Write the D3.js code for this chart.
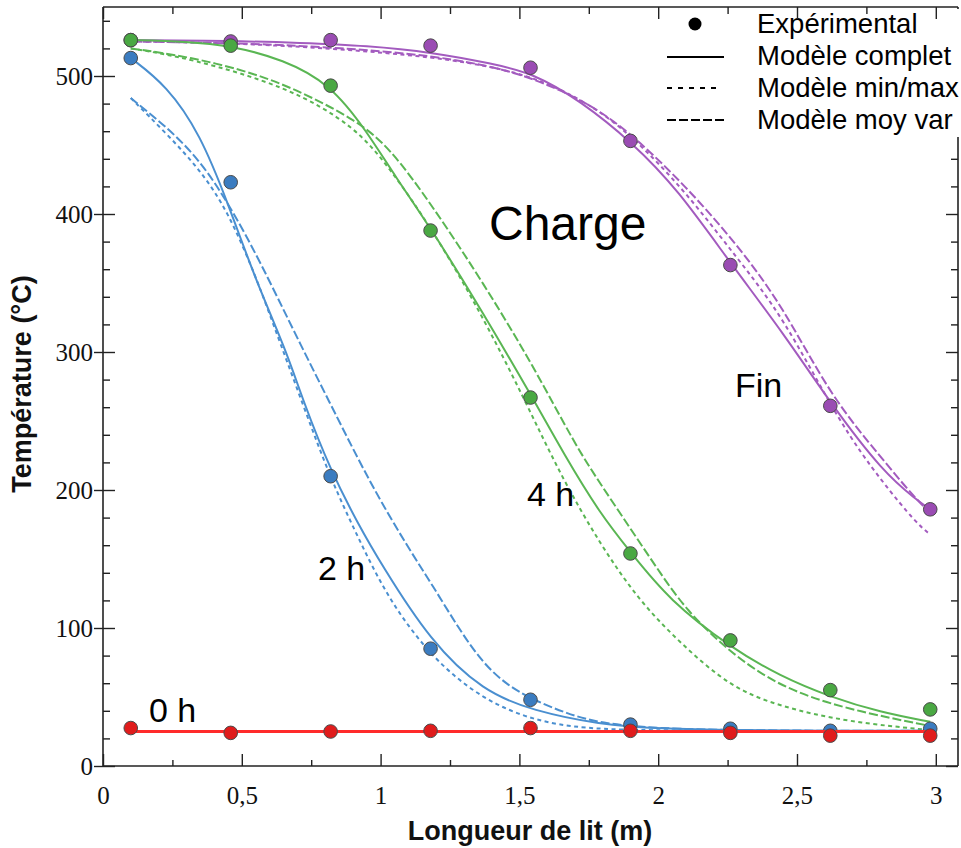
<!DOCTYPE html>
<html>
<head>
<meta charset="utf-8">
<script src="https://cdn.jsdelivr.net/npm/d3@7"></script>
<style>
  html, body { margin: 0; padding: 0; background: #fff; }
  svg { display: block; }
</style>
</head>
<body>
<script>
// ---------- DATA ----------
const xExp = [0.1, 0.46, 0.82, 1.18, 1.54, 1.9, 2.26, 2.62, 2.98];
const exp0h  = [27.5, 24, 25, 25.5, 27.5, 25.5, 24, 22, 22];
const exp2h  = [513, 423, 210, 85, 48, 30, 27, 25.5, 27];
const exp4h  = [526, 522, 493, 388, 267, 154, 91, 55, 41];
const expFin = [526, 525, 526, 522, 506, 453, 363, 261, 186];

// 0 h models
const x0hModel = [0.1, 2.98];
const t0hModel = [25, 25];

// 2 h models
const x2hComplet = [0.1, 0.23, 0.35, 0.45, 0.55, 0.66, 0.72, 0.82, 0.92, 1.0, 1.18, 1.37, 1.55, 1.79, 2.0, 2.3, 2.6, 2.98];
const t2hComplet = [513, 493, 458, 408, 352, 301, 265, 214, 175, 147, 90, 54, 40, 30, 27, 26, 25.5, 25.5];
const x2hMinMax = [0.1, 0.23, 0.35, 0.45, 0.55, 0.61, 0.72, 0.82, 0.92, 1.03, 1.19, 1.37, 1.55, 1.73, 2.0, 2.98];
const t2hMinMax = [484, 458, 432, 402, 355, 322, 262, 208, 165, 120, 77, 48, 33, 27, 25.5, 25];
const x2hMoyVar = [0.1, 0.23, 0.35, 0.46, 0.57, 0.69, 0.82, 0.92, 1.0, 1.1, 1.19, 1.28, 1.37, 1.46, 1.55, 1.67, 1.79, 2.0, 2.3, 2.6, 2.98];
const t2hMoyVar = [484, 463, 439, 405, 364, 314, 262, 222, 192, 158, 130, 100, 74, 58, 48, 38, 31, 27, 26, 25.5, 25.5];

// 4 h models
const x4hComplet = [0.1, 0.3, 0.46, 0.65, 0.82, 0.95, 1.05, 1.19, 1.37, 1.55, 1.66, 1.79, 1.9, 2.04, 2.26, 2.44, 2.62, 2.8, 2.98];
const t4hComplet = [526, 525, 522, 512, 494, 460, 428, 387, 328, 266, 226, 183, 155, 120, 86, 65, 50, 39, 32];
const x4hMinMax = [0.1, 0.31, 0.67, 0.91, 1.03, 1.19, 1.37, 1.52, 1.65, 1.79, 1.93, 2.08, 2.26, 2.44, 2.68, 2.98];
const t4hMinMax = [520, 513, 492, 463, 434, 388, 325, 265, 210, 161, 120, 89, 57, 43, 32, 26];
const x4hMoyVar = [0.1, 0.31, 0.55, 0.73, 0.91, 1.03, 1.19, 1.37, 1.55, 1.7, 1.79, 1.9, 2.0, 2.1, 2.26, 2.44, 2.68, 2.98];
const t4hMoyVar = [520, 514, 502, 487, 468, 449, 405, 350, 290, 233, 205, 172, 142, 113, 82, 57, 41, 29];

// Fin models
const xFinComplet = [0.1, 0.46, 0.71, 0.95, 1.19, 1.4, 1.55, 1.72, 1.906, 2.07, 2.265, 2.45, 2.627, 2.81, 2.93, 2.98];
const tFinComplet = [526, 525.5, 524, 522, 517, 509, 502, 482, 452, 418, 363, 314, 261, 213, 193, 186];
const xFinMinMax = [0.1, 0.46, 0.82, 1.19, 1.45, 1.6, 1.75, 1.9, 2.1, 2.28, 2.45, 2.654, 2.81, 2.93, 2.978];
const tFinMinMax = [525, 524, 520, 514, 505, 495, 480, 458, 416, 369, 326, 248, 205, 176, 168];
const xFinMoyVar = [0.1, 0.46, 0.82, 1.19, 1.45, 1.6, 1.75, 1.9, 2.1, 2.28, 2.45, 2.62, 2.81, 2.9, 2.966];
const tFinMoyVar = [525, 524, 521, 515, 505, 494, 480, 459, 420, 379, 333, 268, 222, 200, 186];

// ticks
const xMajorTicks = [0, 0.5, 1, 1.5, 2, 2.5, 3];
const xTickLabels = ["0", "0,5", "1", "1,5", "2", "2,5", "3"];
const yMajorTicks = [0, 100, 200, 300, 400, 500];
const yTickLabels = ["0", "100", "200", "300", "400", "500"];

const legendLabels = ["Expérimental", "Modèle complet", "Modèle min/max", "Modèle moy var"];

// ---------- STYLE ----------
const W = 961, H = 848;
const colors = {
  fin:  { pt: "#9a4cb3", ln: "#a35bbf" },
  h4:   { pt: "#4aa843", ln: "#5ab653" },
  h2:   { pt: "#3b7cc0", ln: "#4a8fd0" },
  h0:   { pt: "#e01c1c", ln: "#ff2a2a" }
};
const dashShort = "4,3.5";
const dashLong = "9,3";

const svg = d3.select("body").append("svg").attr("width", W).attr("height", H);

const x = d3.scaleLinear().domain([0, 3.08]).range([103, 958]);
const y = d3.scaleLinear().domain([0, 550]).range([766, 7]);

const plot = svg.append("g");

// Curves
const line = d3.line().x(d => x(d[0])).y(d => y(d[1])).curve(d3.curveBasis);
function drawCurve(xs, ts, color, dash, width) {
  plot.append("path")
    .datum(d3.zip(xs, ts))
    .attr("d", line)
    .attr("fill", "none")
    .attr("stroke", color)
    .attr("stroke-width", width || 2)
    .attr("stroke-dasharray", dash || null);
}
function drawPoints(vals, color) {
  plot.selectAll(null).data(d3.zip(xExp, vals)).enter().append("circle")
    .attr("cx", d => x(d[0])).attr("cy", d => y(d[1])).attr("r", 6.8)
    .attr("fill", color).attr("stroke", "#4a4a4a").attr("stroke-width", 1);
}

// Fin
drawCurve(xFinMinMax, tFinMinMax, colors.fin.ln, dashShort);
drawCurve(xFinMoyVar, tFinMoyVar, colors.fin.ln, dashLong);
drawCurve(xFinComplet, tFinComplet, colors.fin.ln);
// 4 h
drawCurve(x4hMinMax, t4hMinMax, colors.h4.ln, dashShort);
drawCurve(x4hMoyVar, t4hMoyVar, colors.h4.ln, dashLong);
drawCurve(x4hComplet, t4hComplet, colors.h4.ln);
// 2 h
drawCurve(x2hMinMax, t2hMinMax, colors.h2.ln, dashShort);
drawCurve(x2hMoyVar, t2hMoyVar, colors.h2.ln, dashLong);
drawCurve(x2hComplet, t2hComplet, colors.h2.ln);

drawPoints(expFin, colors.fin.pt);
drawPoints(exp4h, colors.h4.pt);
drawPoints(exp2h, colors.h2.pt);

// 0 h
drawCurve(x0hModel, t0hModel, colors.h0.ln, dashShort, 3);
drawCurve(x0hModel, t0hModel, colors.h0.ln, dashLong, 3);
drawCurve(x0hModel, t0hModel, colors.h0.ln, null, 3);
drawPoints(exp0h, colors.h0.pt);

// ---------- AXES / FRAME ----------
const axisColor = "#222";
const frame = svg.append("g");
frame.append("line").attr("x1", 103).attr("x2", 103).attr("y1", 7).attr("y2", 766).attr("stroke", axisColor).attr("stroke-width", 1.6);
frame.append("line").attr("x1", 103).attr("x2", 958).attr("y1", 766).attr("y2", 766).attr("stroke", axisColor).attr("stroke-width", 1.6);
frame.append("line").attr("x1", 103).attr("x2", 958).attr("y1", 7).attr("y2", 7).attr("stroke", axisColor).attr("stroke-width", 1.6);
frame.append("line").attr("x1", 958).attr("x2", 958).attr("y1", 7).attr("y2", 766).attr("stroke", axisColor).attr("stroke-width", 1.6);

// Legend background (hides right border top part)
const leg = svg.append("g");
leg.append("rect").attr("x", 655).attr("y", 9).attr("width", 306).attr("height", 128).attr("fill", "#fff");

const xMinor = d3.range(0.25, 3.01, 0.5);
const yMinor = d3.range(0, 551, 20).filter(v => v % 100 !== 0);

// bottom axis
const bottomAxis = d3.axisBottom(x).tickValues(xMajorTicks).tickFormat((d, i) => xTickLabels[i]).tickSizeInner(-12).tickSizeOuter(0).tickPadding(20);
const gB = svg.append("g").attr("transform", "translate(0,766)").call(bottomAxis);
gB.select(".domain").remove();
gB.selectAll(".tick line").attr("stroke", axisColor).attr("stroke-width", 1.4);
gB.selectAll(".tick text").attr("font-family", "Liberation Serif, serif").attr("font-size", 25).attr("fill", "#111");
const bottomMinor = d3.axisBottom(x).tickValues(xMinor).tickFormat("").tickSizeInner(-6).tickSizeOuter(0);
const gBm = svg.append("g").attr("transform", "translate(0,766)").call(bottomMinor);
gBm.select(".domain").remove();
gBm.selectAll(".tick line").attr("stroke", axisColor).attr("stroke-width", 1.4);

// top axis
const topAxis = d3.axisTop(x).tickValues(xMajorTicks).tickFormat("").tickSizeInner(-12).tickSizeOuter(0);
const gT = svg.append("g").attr("transform", "translate(0,7)").call(topAxis);
gT.select(".domain").remove();
gT.selectAll(".tick line").attr("stroke", axisColor).attr("stroke-width", 1.4);
const topMinor = d3.axisTop(x).tickValues(xMinor).tickFormat("").tickSizeInner(-7).tickSizeOuter(0);
const gTm = svg.append("g").attr("transform", "translate(0,7)").call(topMinor);
gTm.select(".domain").remove();
gTm.selectAll(".tick line").attr("stroke", axisColor).attr("stroke-width", 1.4);

// left axis
const leftAxis = d3.axisLeft(y).tickValues(yMajorTicks).tickFormat((d, i) => yTickLabels[i]).tickSizeInner(9).tickSizeOuter(0).tickPadding(2);
const gL = svg.append("g").attr("transform", "translate(103,0)").call(leftAxis);
gL.select(".domain").remove();
gL.selectAll(".tick line").attr("stroke", axisColor).attr("stroke-width", 1.4).attr("x2", 12).attr("x1", -9);
gL.selectAll(".tick text").attr("font-family", "Liberation Serif, serif").attr("font-size", 25).attr("fill", "#111").attr("x", -10);
const leftMinor = d3.axisLeft(y).tickValues(yMinor).tickFormat("").tickSizeInner(-7).tickSizeOuter(0);
const gLm = svg.append("g").attr("transform", "translate(103,0)").call(leftMinor);
gLm.select(".domain").remove();
gLm.selectAll(".tick line").attr("stroke", axisColor).attr("stroke-width", 1.4);

// right axis (inward)
const rightAxis = d3.axisRight(y).tickValues(yMajorTicks).tickFormat("").tickSizeInner(-12).tickSizeOuter(0);
const gR = svg.append("g").attr("transform", "translate(958,0)").call(rightAxis);
gR.select(".domain").remove();
gR.selectAll(".tick").filter(d => y(d) < 137).remove();
gR.selectAll(".tick line").attr("stroke", axisColor).attr("stroke-width", 1.4);
const rightMinor = d3.axisRight(y).tickValues(yMinor).tickFormat("").tickSizeInner(-7).tickSizeOuter(0);
const gRm = svg.append("g").attr("transform", "translate(958,0)").call(rightMinor);
gRm.select(".domain").remove();
gRm.selectAll(".tick").filter(d => y(d) < 137).remove();
gRm.selectAll(".tick line").attr("stroke", axisColor).attr("stroke-width", 1.4);

// axis titles
svg.append("text").attr("x", 530).attr("y", 840).attr("text-anchor", "middle")
  .attr("font-family", "Liberation Sans, Arial, sans-serif").attr("font-weight", "bold").attr("font-size", 27)
  .attr("fill", "#111").text("Longueur de lit (m)");
svg.append("text").attr("transform", "translate(31,384) rotate(-90)").attr("text-anchor", "middle")
  .attr("font-family", "Liberation Sans, Arial, sans-serif").attr("font-weight", "bold").attr("font-size", 27)
  .attr("fill", "#111").text("Température (°C)");

// annotations
const ann = [
  { t: "Charge", x: 489, y: 240, s: 48 },
  { t: "Fin", x: 735, y: 397, s: 34 },
  { t: "4 h", x: 527, y: 506, s: 34 },
  { t: "2 h", x: 318, y: 580, s: 34 },
  { t: "0 h", x: 149, y: 722, s: 34 }
];
svg.selectAll(null).data(ann).enter().append("text")
  .attr("x", d => d.x).attr("y", d => d.y).attr("font-size", d => d.s)
  .attr("font-family", "Liberation Sans, Arial, sans-serif").attr("fill", "#000").text(d => d.t);

// legend content
const legX = 667, legX2 = 724, legTextX = 757;
const rowsY = [24, 57, 88, 120];
const baseY = [33, 65, 97, 129];
leg.append("circle").attr("cx", 695).attr("cy", rowsY[0]).attr("r", 6.5).attr("fill", "#000");
leg.append("line").attr("x1", legX).attr("x2", legX2).attr("y1", rowsY[1]).attr("y2", rowsY[1]).attr("stroke", "#000").attr("stroke-width", 2);
leg.append("line").attr("x1", legX).attr("x2", 722).attr("y1", rowsY[2]).attr("y2", rowsY[2]).attr("stroke", "#000").attr("stroke-width", 2).attr("stroke-dasharray", "5,6");
leg.append("line").attr("x1", legX).attr("x2", legX2).attr("y1", rowsY[3]).attr("y2", rowsY[3]).attr("stroke", "#000").attr("stroke-width", 2).attr("stroke-dasharray", "9,3");
leg.selectAll("text").data(legendLabels).enter().append("text")
  .attr("x", legTextX).attr("y", (d, i) => baseY[i])
  .attr("font-family", "Liberation Sans, Arial, sans-serif").attr("font-size", 27.5).attr("fill", "#000")
  .text(d => d);
</script>
</body>
</html>
